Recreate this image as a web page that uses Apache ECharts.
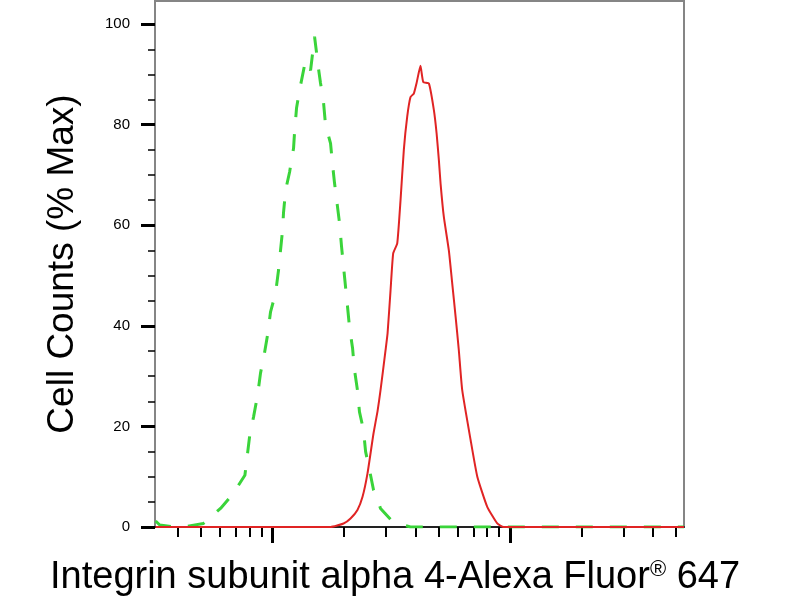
<!DOCTYPE html>
<html>
<head>
<meta charset="utf-8">
<script src="https://cdn.jsdelivr.net/npm/echarts@6/dist/echarts.min.js"></script>
<style>
  html, body { margin: 0; padding: 0; background: #fff; }
  #chart { width: 800px; height: 600px; }
</style>
</head>
<body>
<div id="chart"></div>
<script>
// fluorescence intensity (log axis) and % max for the isotype control (green, dashed)
var greenX = [322, 335, 373, 431, 512, 604, 677, 765, 782, 802, 832, 865, 890, 925, 953, 981,
  1030, 1060, 1102, 1112, 1135, 1180, 1226, 1238, 1262, 1300, 1377, 1446, 1503, 1563, 1592,
  1639, 1672, 1755, 1790, 1824, 1878, 1915, 1953, 1991, 2029, 2069, 2110, 2172, 2214, 2278,
  2323, 2415, 2465, 2561, 2661, 2849, 3139, 3357, 3810, 5615, 9120, 24040, 54000];
var greenY = [1.2, 0.4, 0.1, 0.1, 0.7, 3.7, 6.4, 10.3, 14, 18.3, 21.9, 26.2, 30.6, 34.6, 38.2, 42.8,
  46.5, 51.1, 59, 62.4, 67, 70.6, 75.3, 78.5, 83.3, 86.9, 92.8, 90.8, 97.5, 91, 88.3,
  84.5, 79.9, 76.3, 72, 68.4, 63.6, 60.4, 55.7, 51.7, 47.8, 43.8, 39.6, 35.6, 31.2, 27.2,
  22.9, 19.3, 15, 11.3, 7.4, 3.7, 1.5, 0.7, 0, 0, 0, 0, 0];

// stained sample (red, solid)
var redX = [322, 1755, 1991, 2130, 2278, 2393, 2512, 2661, 2767, 2849, 2992, 3050, 3139, 3221,
  3350, 3459, 3571, 3690, 3810, 3935, 4037, 4196, 4311, 4552, 4779, 4906, 5015, 5099, 5262,
  5525, 5710, 5900, 6085, 6290, 6823, 7281, 8017, 8834, 9397, 54000];
var redY = [0, 0, 0.7, 1.7, 3.4, 6, 10.7, 18.6, 23, 27.2, 35.2, 38.5, 47, 54.4,
  56.4, 65, 75, 81.6, 85.5, 86.2, 88.2, 91.7, 88.5, 88.2, 82.9, 78.3, 73, 68.3, 61.7,
  55, 48.4, 41.8, 35.2, 27.2, 17.3, 10, 4, 0.7, 0, 0];

var yMajor = [0, 20, 40, 60, 80, 100];
var yMinor = [5, 10, 15, 25, 30, 35, 45, 50, 55, 65, 70, 75, 85, 90, 95];
var xMajor = [1000, 10000];
var xMinor = [400, 500, 600, 700, 800, 900, 2000, 3000, 4000, 5000, 6000, 7000, 8000, 9000,
  20000, 30000, 40000, 50000];

var xTitle = 'Integrin subunit alpha 4-Alexa Fluor{sup|®} 647';
var yTitle = 'Cell Counts (% Max)';

function pairs(xs, ys) {
  var out = [];
  for (var i = 0; i < xs.length; i++) out.push([xs[i], ys[i]]);
  return out;
}

var font = 'Liberation Sans, Arial, sans-serif';
var chart = echarts.init(document.getElementById('chart'));

var option = {
  animation: false,
  backgroundColor: '#fff',
  title: {
    text: xTitle,
    left: 50,
    top: 559,
    padding: 0,
    textStyle: {
      fontFamily: font, fontSize: 38, fontWeight: 'normal', color: '#000',
      rich: { sup: { fontFamily: font, fontSize: 22, verticalAlign: 'top', color: '#000' } }
    }
  },
  grid: {
    left: 155, right: 116, top: 1, bottom: 73,
    show: true, borderColor: '#858585', borderWidth: 2, backgroundColor: '#fff'
  },
  xAxis: [{
    type: 'log', logBase: 10, min: 320, max: 54000,
    axisLine: { lineStyle: { color: '#222', width: 2 } },
    axisTick: { customValues: xMajor, length: 16, lineStyle: { color: '#000', width: 3 } },
    axisLabel: { show: false },
    splitLine: { show: false }, minorTick: { show: false }
  }, {
    type: 'log', logBase: 10, min: 320, max: 54000, position: 'bottom',
    axisLine: { show: false },
    axisTick: { customValues: xMinor, length: 10, lineStyle: { color: '#000', width: 2 } },
    axisLabel: { show: false },
    splitLine: { show: false }
  }],
  yAxis: [{
    type: 'value', min: 0, max: 104.6,
    name: yTitle, nameLocation: 'middle', nameGap: 74,
    nameTextStyle: { fontFamily: font, fontSize: 37, color: '#000' },
    axisLine: { show: true, lineStyle: { color: '#858585', width: 2 } },
    axisTick: { customValues: yMajor, length: 14, lineStyle: { color: '#000', width: 3 } },
    axisLabel: { customValues: yMajor, margin: 25, fontFamily: font, fontSize: 15, color: '#000' },
    splitLine: { show: false }
  }, {
    type: 'value', min: 0, max: 104.6, position: 'left',
    axisLine: { show: false },
    axisTick: { customValues: yMinor, length: 7, lineStyle: { color: '#000', width: 1.5 } },
    axisLabel: { show: false },
    splitLine: { show: false }
  }],
  series: [{
    name: 'control',
    type: 'line',
    data: pairs(greenX, greenY),
    showSymbol: false,
    lineStyle: { color: '#3ad43a', width: 3, type: [17, 17] },
    z: 2
  }, {
    name: 'sample',
    type: 'line',
    data: pairs(redX, redY),
    showSymbol: false,
    smooth: 0.15,
    lineStyle: { color: '#e02424', width: 2 },
    z: 3
  }]
};

chart.setOption(option);
</script>
</body>
</html>
